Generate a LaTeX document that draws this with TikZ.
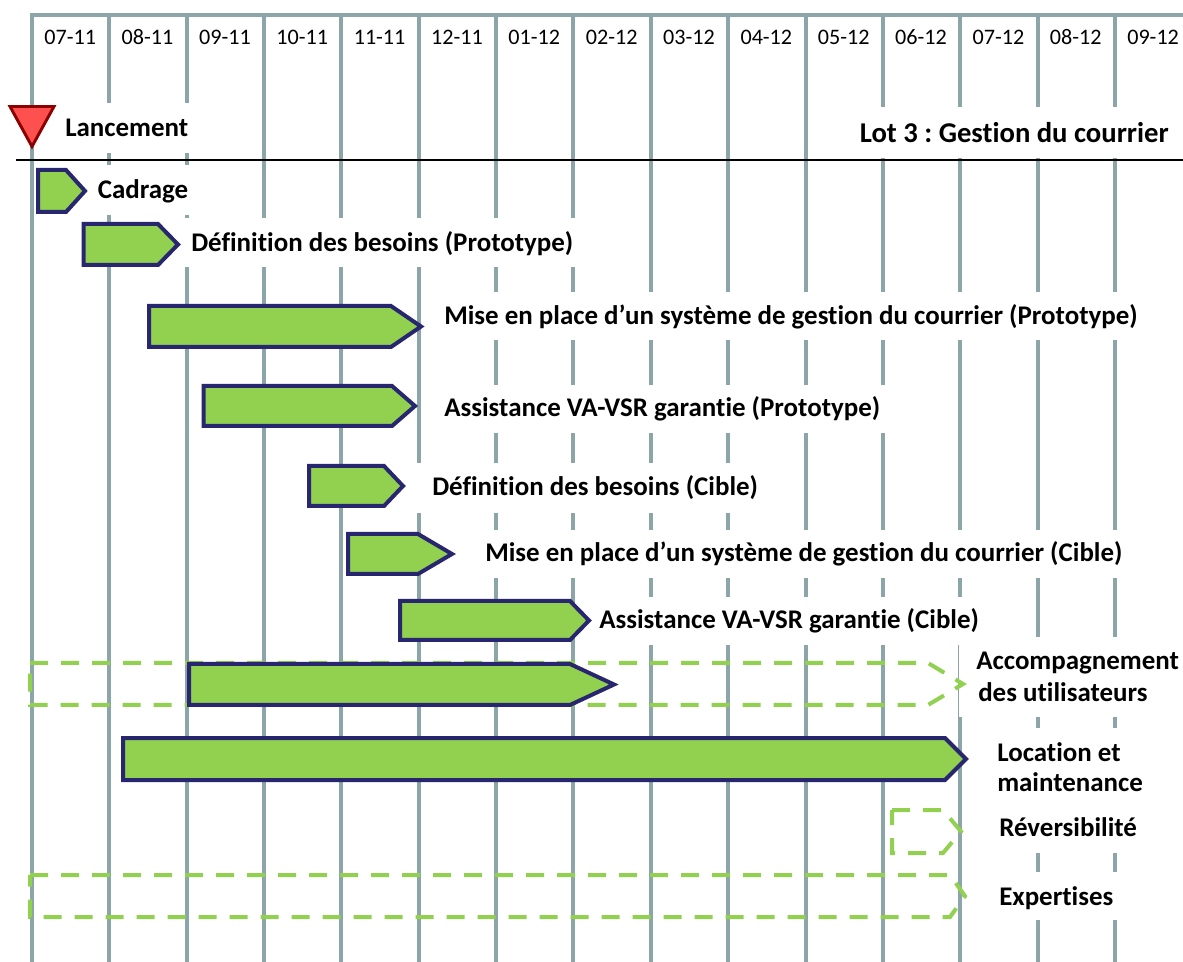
\documentclass[tikz,border=0pt]{standalone}
\usepackage{fontspec}
\setmainfont{Carlito}[Ligatures=NoCommon]
\frenchspacing
\definecolor{gridc}{RGB}{140,165,168}
\definecolor{barfill}{RGB}{146,208,80}
\definecolor{barline}{RGB}{40,38,110}
\definecolor{milefill}{RGB}{255,80,80}
\definecolor{mileline}{RGB}{140,0,0}
\newcommand\ganttbar[6][bar]{%
  \draw[#1] (#2,#5) -- (#3,#5) -- (#4,{(#5+#6)/2}) -- (#3,#6) -- (#2,#6) -- cycle;}
\begin{document}
\begin{tikzpicture}[x=0.75pt,y=-0.75pt,
  gridline/.style={draw=gridc,line width=3pt},
  maskbox/.style={fill=white,draw=none},
  bar/.style={draw=barline,fill=barfill,line width=3pt,line join=miter},
  dashbar/.style={draw=barfill,line width=3pt,dash pattern=on 13.5pt off 9.75pt,line join=miter},
  lbl/.style={font=\fontsize{20.2}{24}\selectfont\bfseries,inner sep=0pt,anchor=base west},
  month/.style={font=\fontsize{16.6}{20}\selectfont,inner sep=0pt,anchor=base}]
\useasboundingbox (0,0) rectangle (1183,962);
% grid
\draw[gridline] (30,15) -- (1183,15);
\foreach \i in {0,...,14} \draw[gridline] ({32+77.35*\i},15) -- ({32+77.35*\i},962);
\foreach \m [count=\i from 0] in {07-11,08-11,09-11,10-11,11-11,12-11,01-12,02-12,03-12,04-12,05-12,06-12,07-12,08-12,09-12}
  \node[month] (m\i) at ({70.2+77.35*\i},45) {\m};
% white masks behind labels
\fill[maskbox] (58,103) rectangle (192,153);
\fill[maskbox] (815,107) rectangle (1183,158);
\fill[maskbox] (90,165) rectangle (200,215);
\fill[maskbox] (183,218) rectangle (590,267);
\fill[maskbox] (428,292) rectangle (1150,340);
\fill[maskbox] (428,385) rectangle (900,433);
\fill[maskbox] (412,463) rectangle (765,513);
\fill[maskbox] (460,530) rectangle (1125,578);
\fill[maskbox] (592,597) rectangle (990,645);
\fill[maskbox] (959,637) rectangle (1183,717);
\fill[maskbox] (975,728) rectangle (1183,810);
\fill[maskbox] (975,805) rectangle (1183,853);
\fill[maskbox] (975,872) rectangle (1183,920);
% header rule
\draw[black,line width=1.2pt] (16,160) -- (1183,160);
% dashed outlines
\ganttbar[dashbar]{30}{928}{963}{663}{705}
\ganttbar[dashbar]{892}{943}{961}{810}{853}
\ganttbar[dashbar]{30}{950}{965}{875}{917}
% bars
\ganttbar{38}{66}{85}{170}{212}
\ganttbar{83.5}{158}{178}{224}{265}
\ganttbar{149}{391}{421}{306}{347}
\ganttbar{203.5}{392}{415}{386}{426}
\ganttbar{309}{384}{403}{466}{506}
\ganttbar{348}{418}{452}{534}{574}
\ganttbar{400}{570}{589}{601}{640}
\ganttbar{189}{570}{614}{664}{705}
\ganttbar{123}{945}{966}{738}{780}
% milestone
\draw[fill=milefill,draw=mileline,line width=2.2pt,line join=miter] (10,106.5) -- (54,106.5) -- (32,146.5) -- cycle;
% labels
\node[lbl] (lanc) at (65,137) {Lancement};
\node[lbl,anchor=base east,font=\fontsize{21.5}{25}\selectfont\bfseries] (lot) at (1169,143) {Lot 3 : Gestion du courrier};
\node[lbl] (cad) at (97.5,199) {Cadrage};
\node[lbl] (defp) at (191,251.5) {Définition des besoins (Prototype)};
\node[lbl] (misep) at (444,325) {Mise en place d’un système de gestion du courrier (Prototype)};
\node[lbl] (assp) at (444,417) {Assistance VA-VSR garantie (Prototype)};
\node[lbl] (defc) at (432,496) {Définition des besoins (Cible)};
\node[lbl] (misec) at (485,562) {Mise en place d’un système de gestion du courrier (Cible)};
\node[lbl] (assc) at (599,629) {Assistance VA-VSR garantie (Cible)};
\node[lbl] (acc1) at (976,670) {Accompagnement};
\node[lbl] (acc2) at (978,701) {des utilisateurs};
\node[lbl] (loc1) at (997,761) {Location et};
\node[lbl] (loc2) at (997,792) {maintenance};
\node[lbl] (rev) at (999,836) {Réversibilité};
\node[lbl] (exp) at (999,905) {Expertises};
\end{tikzpicture}
\end{document}
